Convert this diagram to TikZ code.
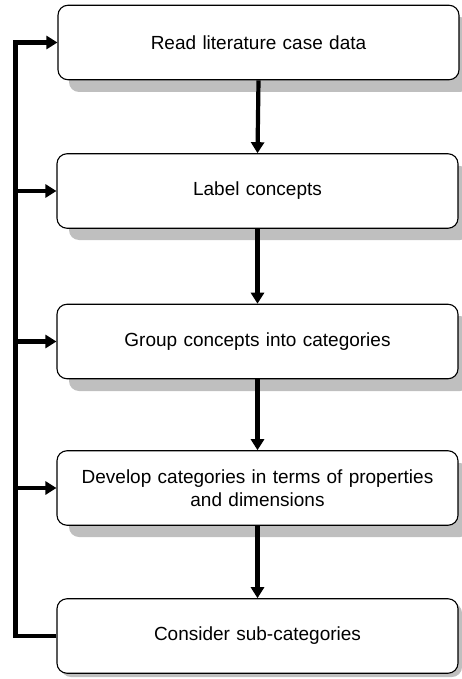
\documentclass[tikz,border=0pt]{standalone}
\usepackage{fontspec}
\setmainfont{Liberation Sans}
\usetikzlibrary{arrows.meta}
\begin{document}
\begin{tikzpicture}[x=1pt,y=-1pt,
  stepbox/.style={draw=black, line width=1.1pt, rounded corners=10pt, fill=white,
    minimum width=401pt, minimum height=74.5pt, align=center, font=\fontsize{19}{23}\selectfont, inner sep=0pt, text width=390pt},
  conn/.style={line width=4.2pt, -{Triangle[length=11pt,width=13pt]}},
  plain/.style={line width=4.2pt},
  shadowbox/.style={fill=black!25, rounded corners=10pt}]
\useasboundingbox (0,0) rectangle (462,679);
\fill[shadowbox] (69,17) rectangle (470,92);
\fill[shadowbox] (69,166) rectangle (470,240);
\fill[shadowbox] (69,316) rectangle (470,391);
\fill[shadowbox] (69,463) rectangle (470,537);
\fill[shadowbox] (61,603) rectangle (462,677);
\node[stepbox] (b1) at (258.5,42.5) {Read literature case data};
\node[stepbox] (b2) at (257.5,191) {Label concepts};
\node[stepbox] (b3) at (257.5,341.5) {Group concepts into categories};
\node[stepbox] (b4) at (257.5,488) {Develop categories in terms of properties\\and dimensions};
\node[stepbox] (b5) at (257.5,636) {Consider sub-categories};
\coordinate (c5) at (15.5,636);
\coordinate (c1) at (15.5,42.5);
\coordinate (c2) at (15.5,191);
\coordinate (c3) at (15.5,341.5);
\coordinate (c4) at (15.5,488);
\draw[conn] (b1.south) -- (b2.north);
\draw[conn] (b2.south) -- (b3.north);
\draw[conn] (b3.south) -- (b4.north);
\draw[conn] (b4.south) -- (b5.north);
\draw[plain, line join=miter] (b5.west) -- (c5) -- ([yshift=-2.1pt]c1);
\draw[conn] ([xshift=-2.1pt]c1) -- (b1.west);
\draw[conn] (c2) -- (b2.west);
\draw[conn] (c3) -- (b3.west);
\draw[conn] (c4) -- (b4.west);
\end{tikzpicture}
\end{document}
